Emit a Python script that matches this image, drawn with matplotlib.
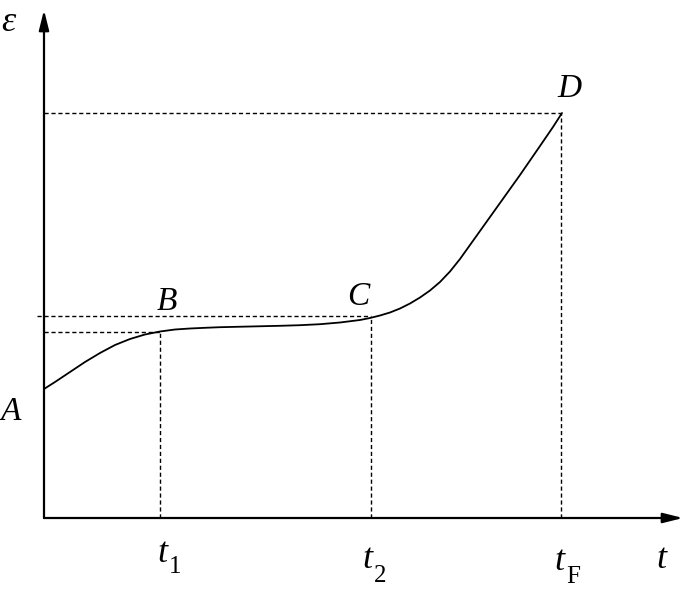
import matplotlib
matplotlib.use("Agg")
import matplotlib.pyplot as plt

# creep curve (origin at the axes corner)
curve_t = [0, 11, 26, 41, 56, 71, 86, 101, 116, 131, 146, 161, 176, 206,
           236, 256, 276, 296, 316, 326, 336, 346, 356, 366, 376, 386, 396,
           406, 416, 426, 436, 456, 476, 496, 509, 518]
curve_eps = [129, 136, 146, 156, 165, 173, 179, 183.5, 186.5, 188.5, 189.5,
             190.2, 190.8, 191.5, 192.2, 192.8, 193.8, 195.5, 198, 200, 202.5,
             205.5, 209.5, 214.5, 220.5, 227.5, 236, 246.5, 259, 273, 287,
             315, 343, 372, 391, 405]

t1, t2, tF = 116, 327, 517
eps_B, eps_C, eps_D = 186, 202, 405

fig = plt.figure(figsize=(6.85, 5.89), dpi=100)
ax = fig.add_axes([0, 0, 1, 1])
ax.set_xlim(-44, 641)
ax.set_ylim(-71, 518)
ax.axis("off")

# axes with arrows
arr = dict(arrowstyle="-|>,head_length=1.2,head_width=0.3", lw=1.6,
           color="black", shrinkA=0, shrinkB=0)
ax.annotate("", xy=(639, 0), xytext=(0, 0), arrowprops=arr)
ax.annotate("", xy=(0, 508), xytext=(0, 0), arrowprops=arr)

# the curve
ax.plot(curve_t, curve_eps, color="black", lw=1.3, solid_capstyle="round",
        solid_joinstyle="round")

# guide lines
dash = dict(color="black", lw=1.0, linestyle=(0, (3, 2)))
ax.plot([0, t1], [eps_B, eps_B], **dash)
ax.plot([-7, t2], [eps_C, eps_C], **dash)
ax.plot([0, tF], [eps_D, eps_D], **dash)
ax.plot([t1, t1], [0, eps_B], **dash)
ax.plot([t2, t2], [0, 199], **dash)
ax.plot([tF, tF], [0, eps_D], **dash)

ital = dict(family="Liberation Serif", style="italic", va="baseline", ha="left")
up = dict(family="Liberation Serif", va="baseline", ha="left")

ax.text(-43, 98, "A", fontsize=24, **ital)
ax.text(113, 208, "B", fontsize=24, **ital)
ax.text(303, 213, "C", fontsize=24, **ital)
ax.text(513, 421, "D", fontsize=24, **ital)
ax.text(-43, 487, "ε", fontsize=26, **ital)

ax.text(113, -44, "t", fontsize=26, **ital)
ax.text(125, -55, "1", fontsize=18, **up)
ax.text(318, -50, "t", fontsize=26, **ital)
ax.text(330, -64, "2", fontsize=18, **up)
ax.text(510, -52, "t", fontsize=26, **ital)
ax.text(522, -65, "F", fontsize=18, **up)
ax.text(612, -50, "t", fontsize=26, **ital)

fig.savefig("out.png", dpi=100)
